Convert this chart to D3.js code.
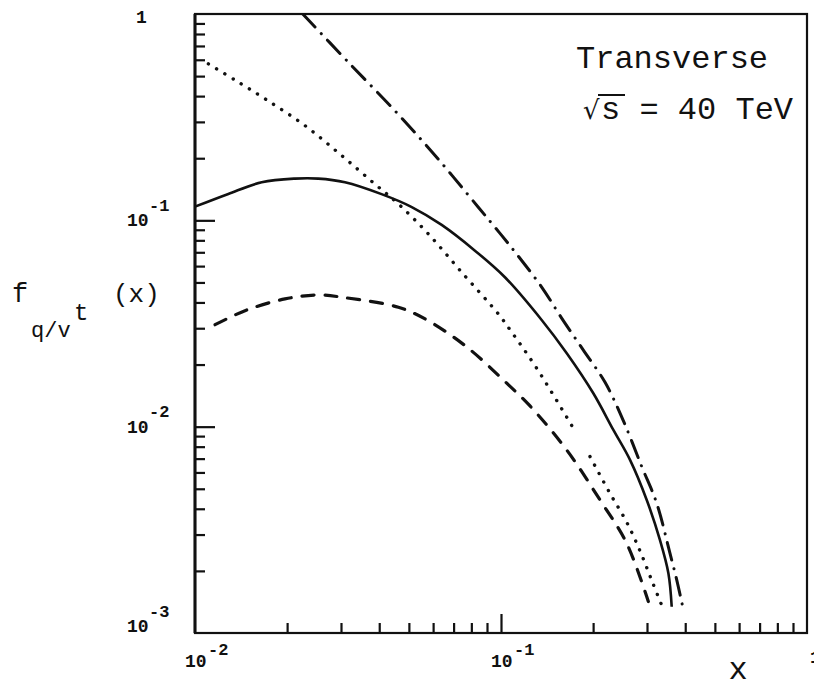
<!DOCTYPE html>
<html>
<head>
<meta charset="utf-8">
<script src="https://cdn.jsdelivr.net/npm/d3@7/dist/d3.min.js"></script>
<style>
  html, body { margin: 0; padding: 0; background: #fff; }
  svg { display: block; }
  text { fill: #111; }
</style>
</head>
<body>
<svg id="chart" width="814" height="688"></svg>
<script>
// Parton distributions f_{q/v^t}(x), transverse, sqrt(s) = 40 TeV
const solidX = [0.01, 0.01285, 0.01652, 0.02122, 0.0253, 0.0309, 0.0407, 0.0511, 0.064, 0.0822, 0.103, 0.1358, 0.164, 0.2003, 0.2329, 0.264, 0.2994, 0.3308, 0.3524, 0.3613];
const solidY = [0.1165, 0.1343, 0.153, 0.1593, 0.1593, 0.153, 0.1340, 0.1160, 0.0950, 0.0713, 0.053, 0.0329, 0.0227, 0.01452, 0.00964, 0.0069, 0.00441, 0.00282, 0.00195, 0.00134];

const dottedX = [0.01106, 0.0135, 0.01715, 0.02288, 0.03016, 0.0387, 0.0462, 0.0579, 0.0744, 0.098, 0.107, 0.1308, 0.1724, null, 0.1954, 0.2271, 0.2574, 0.2846, 0.3108, 0.3373];
const dottedY = [0.573, 0.479, 0.3835, 0.2877, 0.206, 0.150, 0.1201, 0.0859, 0.056, 0.0352, 0.0295, 0.0192, 0.00982, null, 0.00716, 0.00475, 0.00345, 0.00250, 0.00180, 0.00133];

const dashedX = [0.01163, 0.01457, 0.01968, 0.0253, 0.0309, 0.0462, 0.0579, 0.0782, 0.1017, 0.1244, 0.164, 0.2107, 0.2575, 0.303];
const dashedY = [0.0312, 0.0365, 0.0416, 0.0435, 0.0422, 0.0379, 0.0326, 0.024, 0.01684, 0.0126, 0.0077, 0.00441, 0.00272, 0.00142];

const dashDotX = [0.0225, 0.0317, 0.045, 0.0616, 0.0843, 0.1005, 0.1153, 0.1358, 0.158, 0.1858, 0.2188, 0.251, 0.2884, 0.3228, 0.3567, 0.3752, 0.3925];
const dashDotY = [1.0, 0.584, 0.340, 0.2022, 0.1158, 0.0845, 0.0655, 0.0475, 0.0335, 0.0235, 0.01640, 0.01070, 0.0064, 0.00425, 0.00243, 0.00181, 0.00134];

// tick labels: [value, mantissa, exponent]
const yTickLabels = [[1, "1", ""], [0.1, "10", "-1"], [0.01, "10", "-2"], [0.001, "10", "-3"]];
const xTickLabels = [[0.01, "10", "-2"], [0.1, "10", "-1"], [1, "1", ""]];

const svg = d3.select("#chart");
const plotL = 195, plotR = 807, plotT = 14, plotB = 633;

const x = d3.scaleLog().domain([0.01, 1]).range([plotL, plotR]);
const y = d3.scaleLog().domain([0.001, 1]).range([plotB, plotT]);

svg.append("defs").append("clipPath").attr("id", "plot")
  .append("rect").attr("x", plotL).attr("y", plotT)
  .attr("width", plotR - plotL).attr("height", plotB - plotT);

// inner ticks: minor ticks 2..9 in each decade, longer at decades
const yMinor = [];
const xMinor = [];
for (const dec of [0.001, 0.01, 0.1]) {
  for (let k = 2; k <= 9; k++) yMinor.push(dec * k);
}
for (const dec of [0.01, 0.1]) {
  for (let k = 2; k <= 9; k++) xMinor.push(dec * k);
}
const yMajor = [0.1, 0.01];
const xMajor = [0.1];

const yAxis = d3.axisRight(y).tickValues(yMinor).tickSize(10).tickFormat("");
const yAxisMajor = d3.axisRight(y).tickValues(yMajor).tickSize(20).tickFormat("");
const xAxis = d3.axisTop(x).tickValues(xMinor).tickSize(10).tickFormat("");
const xAxisMajor = d3.axisTop(x).tickValues(xMajor).tickSize(19).tickFormat("");

function styleAxis(g) {
  g.select(".domain").remove();
  g.selectAll(".tick line").attr("stroke", "#111").attr("stroke-width", 2.2);
}
svg.append("g").attr("transform", `translate(${plotL},0)`).call(yAxis).call(styleAxis);
svg.append("g").attr("transform", `translate(${plotL},0)`).call(yAxisMajor).call(styleAxis);
svg.append("g").attr("transform", `translate(0,${plotB})`).call(xAxis).call(styleAxis);
svg.append("g").attr("transform", `translate(0,${plotB})`).call(xAxisMajor).call(styleAxis);

// frame
svg.append("rect")
  .attr("x", plotL).attr("y", plotT)
  .attr("width", plotR - plotL).attr("height", plotB - plotT)
  .attr("fill", "none").attr("stroke", "#111").attr("stroke-width", 2.2);
svg.append("line")
  .attr("x1", plotL).attr("x2", plotL).attr("y1", plotT).attr("y2", plotB)
  .attr("stroke", "#111").attr("stroke-width", 3);

// curves
function pts(xs, ys) {
  return xs.map((v, i) => ({ x: v, y: ys[i] }));
}
const line = d3.line()
  .defined(d => d.x !== null && d.y !== null)
  .x(d => x(d.x)).y(d => y(d.y))
  .curve(d3.curveCatmullRom.alpha(0.5));

const curves = svg.append("g").attr("clip-path", "url(#plot)")
  .attr("fill", "none").attr("stroke", "#111");

curves.append("path").datum(pts(solidX, solidY))
  .attr("d", line).attr("stroke-width", 2.6);

curves.append("path").datum(pts(dashedX, dashedY))
  .attr("d", line).attr("stroke-width", 3.2)
  .attr("stroke-dasharray", "12,11").attr("stroke-linecap", "round");

curves.append("path").datum(pts(dottedX, dottedY))
  .attr("d", line).attr("stroke-width", 3.4)
  .attr("stroke-dasharray", "0.1,9.5").attr("stroke-linecap", "round");

curves.append("path").datum(pts(dashDotX, dashDotY))
  .attr("d", line).attr("stroke-width", 3)
  .attr("stroke-dasharray", "18,9,0.1,9").attr("stroke-linecap", "round");

// tick labels
const tickFont = "'Liberation Mono', 'DejaVu Sans Mono', monospace";
yTickLabels.forEach(([v, m, e]) => {
  const py = y(v);
  if (e === "") {
    svg.append("text").attr("x", 136).attr("y", py + 4)
      .attr("dominant-baseline", "central")
      .attr("font-family", tickFont).attr("font-weight", "bold").attr("font-size", 18)
      .text(m);
  } else {
    const dy = v === 0.001 ? -6 : 1;
    svg.append("text").attr("x", 127).attr("y", py + dy)
      .attr("dominant-baseline", "central")
      .attr("font-family", tickFont).attr("font-weight", "bold").attr("font-size", 18)
      .text(m);
    svg.append("text").attr("x", 149).attr("y", py + dy - 15)
      .attr("dominant-baseline", "central")
      .attr("font-family", tickFont).attr("font-weight", "bold").attr("font-size", 17)
      .text(e);
  }
});
xTickLabels.forEach(([v, m, e]) => {
  const px = x(v);
  if (e === "") {
    svg.append("text").attr("x", px + 3).attr("y", 658)
      .attr("dominant-baseline", "central")
      .attr("font-family", tickFont).attr("font-weight", "bold").attr("font-size", 18)
      .text(m);
  } else {
    svg.append("text").attr("x", px - 10).attr("y", 662)
      .attr("dominant-baseline", "central")
      .attr("font-family", tickFont).attr("font-weight", "bold").attr("font-size", 18)
      .text(m);
    svg.append("text").attr("x", px + 13).attr("y", 650)
      .attr("dominant-baseline", "central")
      .attr("font-family", tickFont).attr("font-weight", "bold").attr("font-size", 17)
      .text(e);
  }
});

// axis titles
const typeFont = "'Liberation Mono', 'Courier New', monospace";
svg.append("text").attr("x", 738).attr("y", 679).attr("text-anchor", "middle")
  .attr("font-family", typeFont).attr("font-size", 32).text("x");

const yl = svg.append("g").attr("font-family", typeFont);
yl.append("text").attr("x", 12).attr("y", 302).attr("font-size", 27).text("f");
yl.append("text").attr("x", 31).attr("y", 337).attr("font-size", 22).text("q/v");
yl.append("text").attr("x", 74).attr("y", 320).attr("font-size", 24).text("t");
yl.append("text").attr("x", 113).attr("y", 302).attr("font-size", 26).text("(x)");

// annotation
svg.append("text").attr("x", 576).attr("y", 68)
  .attr("font-family", typeFont).attr("font-size", 32).text("Transverse");
svg.append("text").attr("x", 583).attr("y", 119)
  .attr("font-family", "'DejaVu Sans', sans-serif").attr("font-size", 26).text("\u221A");
svg.append("line").attr("x1", 598).attr("x2", 625).attr("y1", 95).attr("y2", 95)
  .attr("stroke", "#111").attr("stroke-width", 2);
svg.append("text").attr("x", 601).attr("y", 119)
  .attr("font-family", typeFont).attr("font-size", 32).text("s = 40 TeV");
</script>
</body>
</html>
